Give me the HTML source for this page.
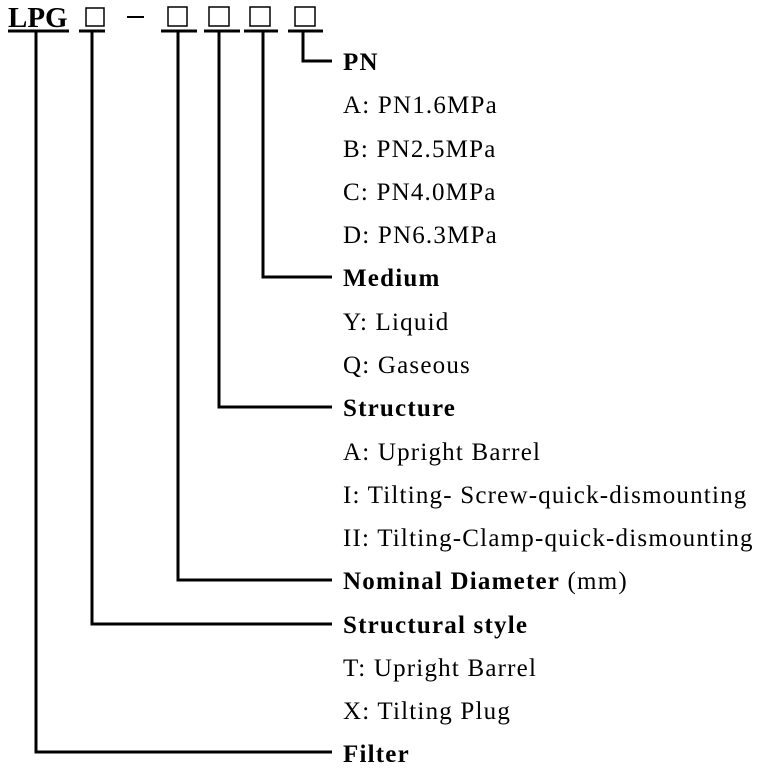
<!DOCTYPE html>
<html><head><style>
body{margin:0;background:#fff}
svg{display:block}
text{font-family:"Liberation Serif",serif;font-size:25px;letter-spacing:1.2px;fill:#000}
.b{font-weight:bold}
</style></head><body>
<svg width="768" height="771" viewBox="0 0 768 771">
<text x="8" y="27" class="b" style="font-size:29px;letter-spacing:0">LPG</text>
<g fill="none" stroke="#000" stroke-width="1.5">
<rect x="86" y="8" width="18" height="18"/>
<rect x="168" y="7" width="19" height="19"/>
<rect x="209" y="7" width="20" height="19"/>
<rect x="250" y="7" width="20" height="19"/>
<rect x="295" y="7" width="20" height="19"/>
</g>
<line x1="127" y1="17" x2="144" y2="17" stroke="#000" stroke-width="2"/>
<g stroke="#000" stroke-width="3" fill="none">
<line x1="8" y1="31" x2="69" y2="31"/>
<line x1="79" y1="31" x2="105" y2="31"/>
<line x1="161" y1="31" x2="197" y2="31"/>
<line x1="204" y1="31" x2="240" y2="31"/>
<line x1="244" y1="31" x2="278" y2="31"/>
<line x1="288" y1="31" x2="323" y2="31"/>
<polyline points="303,31 303,61 332,61"/>
<polyline points="263,31 263,277 332,277"/>
<polyline points="219,31 219,407 332,407"/>
<polyline points="178,31 178,580 332,580"/>
<polyline points="92,31 92,624 332,624"/>
<polyline points="36,31 36,752 332,752"/>
</g>
<text x="343" y="70" class="b">PN</text>
<text x="343" y="113">A: PN1.6MPa</text>
<text x="343" y="157">B: PN2.5MPa</text>
<text x="343" y="200">C: PN4.0MPa</text>
<text x="343" y="243">D: PN6.3MPa</text>
<text x="343" y="286" class="b">Medium</text>
<text x="343" y="330">Y: Liquid</text>
<text x="343" y="373">Q: Gaseous</text>
<text x="343" y="416" class="b">Structure</text>
<text x="343" y="460">A: Upright Barrel</text>
<text x="343" y="503">I: Tilting- Screw-quick-dismounting</text>
<text x="343" y="546">II: Tilting-Clamp-quick-dismounting</text>
<text x="343" y="589"><tspan class="b">Nominal Diameter</tspan> (mm)</text>
<text x="343" y="633" class="b">Structural style</text>
<text x="343" y="676">T: Upright Barrel</text>
<text x="343" y="719">X: Tilting Plug</text>
<text x="343" y="762" class="b">Filter</text>
</svg>
</body></html>
